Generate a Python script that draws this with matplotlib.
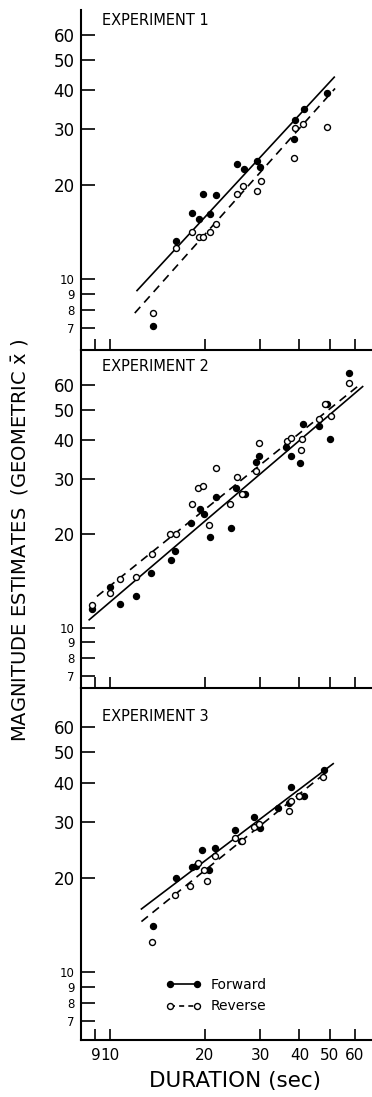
import matplotlib
matplotlib.use("Agg")
import matplotlib.pyplot as plt  # noqa: E402
from matplotlib.lines import Line2D  # noqa: E402
from matplotlib.ticker import NullLocator  # noqa: E402

INK = "black"

# duration (sec) vs geometric-mean magnitude estimate
EXP1_FWD_X = [13.7, 16.2, 18.2, 19.2, 19.8, 20.8, 21.8, 25.3, 26.6, 29.3, 29.9, 38.6, 38.4, 41.3, 49.1]
EXP1_FWD_Y = [7.1, 13.2, 16.2, 15.5, 18.7, 16.1, 18.6, 23.2, 22.5, 23.8, 22.8, 32.1, 28.0, 34.8, 39.1]
EXP1_REV_X = [13.7, 16.2, 18.2, 19.2, 19.8, 20.8, 21.7, 25.3, 26.4, 29.3, 30.2, 38.4, 38.8, 41.1, 48.9]
EXP1_REV_Y = [7.8, 12.6, 14.1, 13.6, 13.6, 14.1, 15.0, 18.7, 19.8, 19.1, 20.5, 24.4, 30.4, 31.3, 30.6]
EXP1_FWD_FIT_X, EXP1_FWD_FIT_Y = [12.2, 51.6], [9.2, 44.0]
EXP1_REV_FIT_X, EXP1_REV_FIT_Y = [12.0, 51.9], [7.8, 40.5]

EXP2_FWD_X = [8.8, 10.0, 10.8, 12.1, 13.5, 15.6, 16.1, 18.1, 19.3, 19.9, 20.8, 21.7, 24.2,
              25.2, 26.9, 29.2, 29.7, 36.2, 37.6, 40.3, 41.0, 46.2, 48.8, 50.0, 57.6]
EXP2_FWD_Y = [11.5, 13.5, 11.9, 12.6, 15.0, 16.5, 17.6, 21.7, 24.0, 23.2, 19.6, 26.3, 20.9,
              28.1, 26.9, 34.1, 35.6, 38.1, 35.7, 33.9, 45.1, 44.4, 52.3, 40.5, 65.8]
EXP2_REV_X = [8.8, 10.0, 10.8, 12.1, 13.6, 15.5, 16.2, 18.2, 19.0, 19.8, 20.7, 21.7, 24.1,
              25.3, 26.3, 29.1, 29.7, 36.4, 37.6, 40.7, 40.5, 46.1, 48.2, 50.3, 57.4]
EXP2_REV_Y = [11.8, 12.9, 14.3, 14.6, 17.2, 20.0, 20.0, 25.0, 28.1, 28.6, 21.3, 32.7, 25.0,
              30.4, 26.9, 31.9, 39.1, 39.8, 40.8, 40.3, 37.2, 46.7, 52.2, 47.9, 60.9]
EXP2_FWD_FIT_X, EXP2_FWD_FIT_Y = [8.6, 63.5], [10.6, 59.5]
EXP2_REV_FIT_X, EXP2_REV_FIT_Y = [9.1, 62.5], [12.6, 60.6]

EXP3_FWD_X = [13.7, 16.2, 18.2, 18.8, 19.6, 20.7, 21.6, 24.9, 26.1, 28.6, 29.9, 34.2, 37.7,
              37.2, 40.0, 41.4, 48.0]
EXP3_FWD_Y = [14.0, 20.0, 21.6, 21.7, 24.5, 21.2, 24.9, 28.4, 26.2, 31.1, 28.7, 33.2, 38.9,
              34.5, 36.4, 36.4, 44.0]
EXP3_REV_X = [13.6, 16.1, 18.0, 19.0, 19.9, 20.4, 21.6, 25.0, 26.3, 28.8, 29.7, 37.2, 37.5,
              39.8, 47.6]
EXP3_REV_Y = [12.5, 17.6, 18.8, 22.2, 21.2, 19.5, 23.5, 26.7, 26.1, 29.0, 29.6, 32.6, 35.1,
              36.4, 41.6]
EXP3_FWD_FIT_X, EXP3_FWD_FIT_Y = [12.6, 51.2], [15.9, 46.0]
EXP3_REV_FIT_X, EXP3_REV_FIT_Y = [12.6, 49.4], [14.5, 43.7]

PANEL_LABELS = ["EXPERIMENT 1", "EXPERIMENT 2", "EXPERIMENT 3"]
X_TICKS = [9, 10, 20, 30, 40, 50, 60]
Y_TICKS = [7, 8, 9, 10, 20, 30, 40, 50, 60]

W, H = 372, 1097


def draw_panel(ax, fwd_x, fwd_y, rev_x, rev_y, ffx, ffy, rfx, rfy):
    ax.plot(ffx, ffy, "-", color=INK, lw=1.2)
    ax.plot(rfx, rfy, color=INK, lw=1.2, ls=(0, (5, 3.5)))
    ax.plot(fwd_x, fwd_y, "o", color=INK, ms=4.3, mec=INK)
    ax.plot(rev_x, rev_y, "o", mfc="white", mec=INK, mew=1.0, ms=4.3)


def main():
    fig = plt.figure(figsize=(W / 100, H / 100), dpi=100)
    # panel extents in pixels (top, bottom) and y-limits
    spans = [(10, 350), (350, 688), (688, 1040)]
    ylims = [(5.95, 72), (6.4, 78), (6.1, 80)]
    label_y = [0.97, 0.95, 0.918]
    data = [
        (EXP1_FWD_X, EXP1_FWD_Y, EXP1_REV_X, EXP1_REV_Y, EXP1_FWD_FIT_X, EXP1_FWD_FIT_Y, EXP1_REV_FIT_X, EXP1_REV_FIT_Y),
        (EXP2_FWD_X, EXP2_FWD_Y, EXP2_REV_X, EXP2_REV_Y, EXP2_FWD_FIT_X, EXP2_FWD_FIT_Y, EXP2_REV_FIT_X, EXP2_REV_FIT_Y),
        (EXP3_FWD_X, EXP3_FWD_Y, EXP3_REV_X, EXP3_REV_Y, EXP3_FWD_FIT_X, EXP3_FWD_FIT_Y, EXP3_REV_FIT_X, EXP3_REV_FIT_Y),
    ]
    left, right = 81, 372
    for i, ((top, bot), yl, d) in enumerate(zip(spans, ylims, data)):
        ax = fig.add_axes([left / W, 1 - bot / H, (right - left) / W, (bot - top) / H])
        ax.patch.set_alpha(0)
        draw_panel(ax, *d)
        ax.set_xscale("log")
        ax.set_yscale("log")
        ax.set_xlim(8.1, 68)
        ax.set_ylim(*yl)
        ax.set_xticks(X_TICKS)
        ax.set_xticklabels([str(t) for t in X_TICKS])
        ax.set_yticks(Y_TICKS)
        ax.set_yticklabels([str(t) for t in Y_TICKS])
        ax.xaxis.set_minor_locator(NullLocator())
        ax.yaxis.set_minor_locator(NullLocator())
        ax.tick_params(axis="y", direction="in", length=10, width=1.2, labelsize=12, pad=4.5, colors=INK)
        ax.tick_params(axis="x", direction="in", length=8, width=1.2, labelsize=11, pad=5.5, colors=INK)
        # the crowded 7-10 labels are set smaller so they do not run into each other
        for val, lab in zip(Y_TICKS, ax.get_yticklabels()):
            if val <= 10:
                lab.set_fontsize(8.5)
        if i < 2:
            ax.tick_params(axis="x", labelbottom=False)
        for s in ("top", "right"):
            ax.spines[s].set_visible(False)
        for s in ("left", "bottom"):
            ax.spines[s].set_linewidth(1.5)
        ax.text(0.072, label_y[i], PANEL_LABELS[i], transform=ax.transAxes, ha="left", va="center",
                fontsize=10.5, color=INK)
        if i == 2:
            handles = [
                Line2D([], [], color=INK, lw=1.2, marker="o", ms=4.3),
                Line2D([], [], color=INK, lw=1.2, ls=(0, (3, 2.5)), marker="o", ms=4.3,
                       mfc="white", mew=1.0),
            ]
            ax.legend(handles, ["Forward", "Reverse"], numpoints=2, frameon=False, fontsize=10,
                      handlelength=2.5, handletextpad=0.7, labelspacing=0.55,
                      loc="lower left", bbox_to_anchor=(0.25, 0.04))

    fig.text(20 / W, 1 - 540 / H, r"MAGNITUDE ESTIMATES  (GEOMETRIC $\mathrm{\bar{x}}$ )", rotation=90,
             ha="center", va="center", fontsize=14, color=INK)
    fig.text(235 / W, 1 - 1081 / H, "DURATION (sec)", ha="center", va="center", fontsize=15.5, color=INK)
    fig.savefig("out.png", dpi=100, facecolor="white")
    plt.close(fig)


if __name__ == "__main__":
    main()
